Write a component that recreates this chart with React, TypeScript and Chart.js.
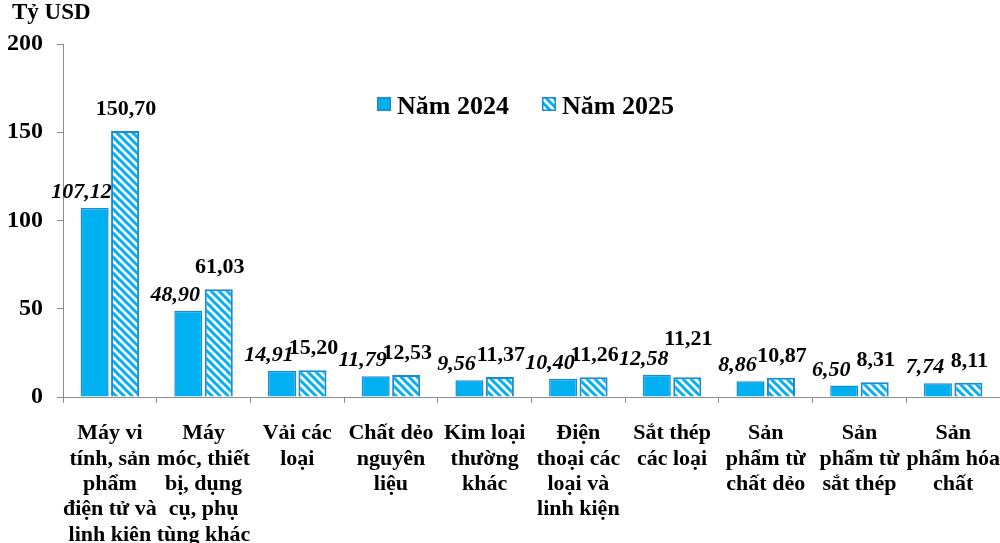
import React, { useEffect, useRef } from "react";
import { Chart, registerables } from "chart.js";

Chart.register(...registerables);

const categories: string[][] = [
  ["Máy vi", "tính, sản", "phẩm", "điện tử và", "linh kiện"],
  ["Máy", "móc, thiết", "bị, dụng", "cụ, phụ", "tùng khác"],
  ["Vải các", "loại"],
  ["Chất dẻo", "nguyên", "liệu"],
  ["Kim loại", "thường", "khác"],
  ["Điện", "thoại các", "loại và", "linh kiện"],
  ["Sắt thép", "các loại"],
  ["Sản", "phẩm từ", "chất dẻo"],
  ["Sản", "phẩm từ", "sắt thép"],
  ["Sản", "phẩm hóa", "chất"],
];

const values2024: number[] = [107.12, 48.9, 14.91, 11.79, 9.56, 10.4, 12.58, 8.86, 6.5, 7.74];
const values2025: number[] = [150.7, 61.03, 15.2, 12.53, 11.37, 11.26, 11.21, 10.87, 8.31, 8.11];

const seriesNames: string[] = ["Năm 2024", "Năm 2025"];
const yTicks: number[] = [0, 50, 100, 150, 200];
const yTitle = "Tỷ USD";

const FONT = '"Liberation Serif", "Times New Roman", serif';
const BLUE = "#00B0F0";
const EDGE = "#1A8AD4";

function makeHatch(): CanvasPattern | string {
  const c = document.createElement("canvas");
  c.width = 8;
  c.height = 8;
  const g = c.getContext("2d");
  if (!g) return "#fff";
  g.fillStyle = "#ffffff";
  g.fillRect(0, 0, 8, 8);
  g.strokeStyle = BLUE;
  g.lineWidth = 3;
  g.beginPath();
  g.moveTo(-2, -2);
  g.lineTo(10, 10);
  g.moveTo(-2, 6);
  g.lineTo(2, 10);
  g.moveTo(6, -2);
  g.lineTo(10, 2);
  g.stroke();
  return g.createPattern(c, "repeat") || "#fff";
}

const fmt = (v: number) => v.toFixed(2).replace(".", ",");

export default function App() {
  const ref = useRef<HTMLCanvasElement | null>(null);

  useEffect(() => {
    document.body.style.margin = "0";
    const canvas = ref.current;
    if (!canvas) return;
    const hatch = makeHatch();

    const labelPlugin = {
      id: "valueLabels",
      afterDatasetsDraw(chart: any) {
        const ctx = chart.ctx;
        ctx.save();
        ctx.fillStyle = "#000";
        ctx.textAlign = "center";
        ctx.textBaseline = "alphabetic";
        const m0 = chart.getDatasetMeta(0);
        const m1 = chart.getDatasetMeta(1);
        m0.data.forEach((bar0: any, i: number) => {
          const bar1 = m1.data[i];
          const v0 = values2024[i];
          const v1 = values2025[i];
          const base0 = bar0.y - 10;
          let base1 = bar1.y - 16;
          if (v0 > v1) base1 = Math.min(base1, base0 - 20);
          ctx.font = `italic bold 22px ${FONT}`;
          ctx.fillText(fmt(v0), bar0.x - 13, base0);
          ctx.font = `bold 22px ${FONT}`;
          ctx.fillText(fmt(v1), bar1.x + 1, base1);
        });
        ctx.restore();
      },
    };

    const legendPlugin = {
      id: "customLegend",
      afterDraw(chart: any) {
        const ctx = chart.ctx;
        ctx.save();
        const items = [
          { x: 377, fill: BLUE, text: seriesNames[0] },
          { x: 542, fill: hatch, text: seriesNames[1] },
        ];
        const y = 97;
        items.forEach((it) => {
          ctx.fillStyle = it.fill;
          ctx.fillRect(it.x, y, 14, 14);
          ctx.strokeStyle = EDGE;
          ctx.lineWidth = 1.5;
          ctx.strokeRect(it.x + 0.75, y + 0.75, 12.5, 12.5);
          ctx.fillStyle = "#000";
          ctx.font = `bold 26px ${FONT}`;
          ctx.textAlign = "left";
          ctx.textBaseline = "alphabetic";
          ctx.fillText(it.text, it.x + 20, y + 17);
        });
        ctx.font = `bold 23px ${FONT}`;
        ctx.fillText(yTitle, 12, 19);
        ctx.restore();
      },
    };

    const chart = new Chart(canvas, {
      type: "bar",
      data: {
        labels: categories,
        datasets: [
          {
            label: seriesNames[0],
            data: values2024,
            backgroundColor: BLUE,
            borderColor: EDGE,
            borderWidth: 1.5,
            categoryPercentage: 0.65,
            barPercentage: 0.92,
          },
          {
            label: seriesNames[1],
            data: values2025,
            backgroundColor: hatch as any,
            borderColor: EDGE,
            borderWidth: 2,
            categoryPercentage: 0.65,
            barPercentage: 0.92,
          },
        ],
      },
      options: {
        responsive: false,
        animation: false,
        layout: { padding: { top: 44, right: 0, left: 0, bottom: 0 } },
        plugins: {
          legend: { display: false },
          tooltip: { enabled: false },
          title: { display: false },
        },
        scales: {
          x: {
            offset: true,
            grid: {
              display: true,
              drawOnChartArea: false,
              drawTicks: true,
              tickLength: 6,
              color: "#8c8c8c",
              offset: true,
            },
            border: { display: true, color: "#8c8c8c", width: 1 },
            ticks: {
              color: "#000",
              font: { family: FONT, size: 22, weight: "bold", lineHeight: 1.15 },
              maxRotation: 0,
              minRotation: 0,
              autoSkip: false,
              padding: 18,
            },
            afterFit(scale: any) {
              scale.height = 146;
              scale.paddingLeft = 0;
              scale.paddingRight = 0;
            },
          },
          y: {
            min: 0,
            max: 200,
            afterBuildTicks(scale: any) {
              scale.ticks = yTicks.map((v) => ({ value: v }));
            },
            grid: {
              display: true,
              drawOnChartArea: false,
              drawTicks: true,
              tickLength: 6,
              color: "#8c8c8c",
            },
            border: { display: true, color: "#8c8c8c", width: 1 },
            ticks: {
              color: "#000",
              font: { family: FONT, size: 24, weight: "bold" },
              padding: 14,
            },
            afterFit(scale: any) {
              scale.width = 63;
            },
          },
        },
      },
      plugins: [labelPlugin, legendPlugin],
    } as any);

    return () => chart.destroy();
  }, []);

  return (
    <div style={{ width: 1000, height: 543, background: "#fff" }}>
      <canvas ref={ref} width={1000} height={543} style={{ display: "block" }} />
    </div>
  );
}
